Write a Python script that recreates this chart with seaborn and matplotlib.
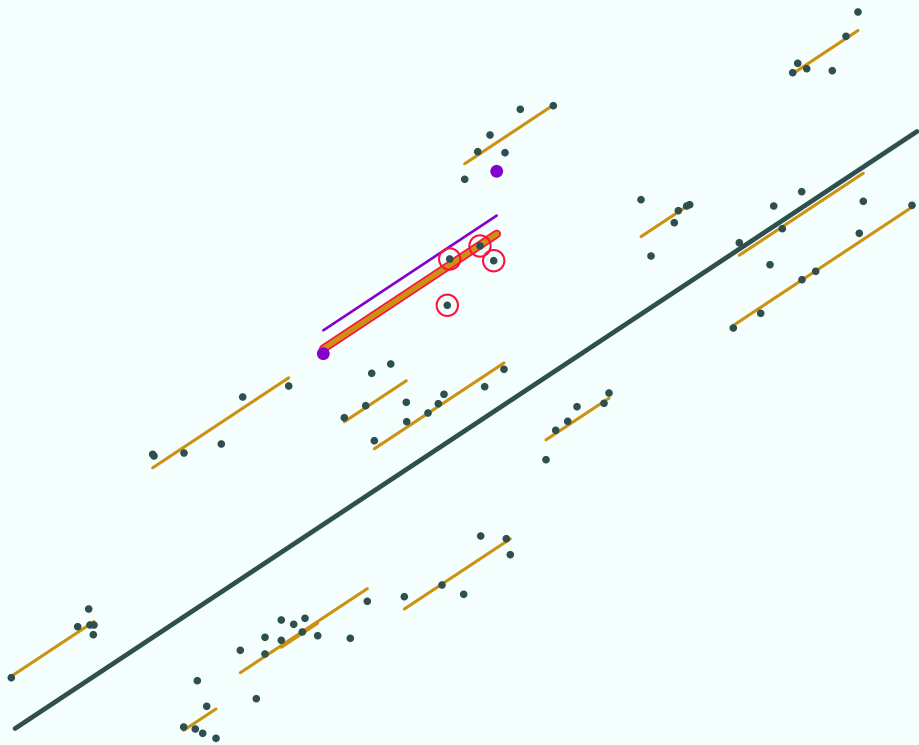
import numpy as np
import pandas as pd
import matplotlib
matplotlib.use("Agg")
import matplotlib.pyplot as plt
import seaborn as sns

# Observations: x, y and the group each belongs to
groups = ["A"] * 6 + ["B"] * 6 + ["C1"] * 6 + ["C2"] * 6 + ["D"] * 6 + ["E"] * 6 + \
         ["F"] * 5 + ["G"] * 7 + ["H"] * 6 + ["I"] * 6 + ["J"] * 6 + ["K"] * 6 + \
         ["L"] * 6 + ["M"] * 6
x_vals = [11.3, 77.7, 88.7, 90.0, 94.0, 93.3,
          197.3, 206.7, 183.7, 195.3, 202.7, 216.0,
          240.3, 265.0, 265.0, 256.3, 350.3, 367.3,
          281.3, 281.3, 293.7, 305.0, 302.3, 317.7,
          404.3, 442.0, 463.7, 480.7, 506.3, 510.3,
          152.7, 154.0, 184.0, 221.3, 242.7, 288.7,
          344.3, 365.7, 371.7, 390.7, 406.3,
          374.3, 406.7, 428.0, 438.3, 444.0, 484.7, 504.0,
          546.0, 555.7, 567.7, 577.0, 604.0, 609.0,
          464.7, 477.7, 490.0, 505.0, 520.3, 553.3,
          792.7, 797.7, 806.7, 832.3, 846.0, 858.0,
          641.0, 651.0, 674.3, 678.3, 686.7, 689.7,
          739.3, 770.0, 773.7, 782.3, 801.7, 863.3,
          733.3, 760.7, 802.0, 815.7, 859.3, 912.0]
y_vals = [677.7, 626.7, 609.0, 625.0, 625.0, 634.7,
          680.7, 706.3, 727.0, 729.0, 733.3, 738.3,
          650.3, 637.3, 654.0, 698.7, 638.3, 601.3,
          620.0, 640.3, 624.3, 618.3, 632.0, 635.7,
          596.7, 585.0, 594.3, 536.0, 538.7, 554.7,
          454.3, 456.0, 453.0, 444.0, 397.0, 386.0,
          417.7, 405.7, 373.3, 364.0, 402.3,
          440.7, 421.7, 413.0, 403.7, 394.3, 386.7, 369.3,
          459.7, 430.3, 421.3, 406.7, 403.3, 393.0,
          179.3, 151.7, 135.0, 152.7, 109.3, 105.7,
          72.7, 63.3, 68.7, 70.7, 36.3, 12.0,
          199.7, 256.0, 222.7, 210.7, 206.0, 204.7,
          242.7, 264.7, 206.0, 228.7, 191.7, 201.3,
          328.0, 313.3, 279.7, 271.3, 233.3, 205.3]

# Highlighted observations
focus_x = [449.7, 480.0, 493.7, 447.3]
focus_y = [259.0, 246.0, 260.7, 305.3]

# Reference observations marking the span of the highlighted fit
ref_x = [323.3, 496.7]
ref_y = [353.7, 171.3]

# Parallel-slopes model: one common slope, an intercept per group
common_slope = -0.662
group_names = ["A", "B", "C1", "C2", "D", "E", "F", "G", "H", "I", "J", "K", "L", "M"]
group_intercepts = [683.8, 851.9, 831.8, 833.5, 876.7, 568.9, 649.7, 696.6,
                    801.3, 471.4, 598.5, 661.0, 744.7, 810.9]
focus_intercept = 562.8
ref_intercept = 544.4
pooled_intercept = 738.5
pooled_range = [15.0, 917.0]

BG = "#f4fffd"
DOT = "#2f4f4f"
GOLD = "#cd9112"
RED = "#ff1040"
PURPLE = "#8600cc"

pts = pd.DataFrame({"x": x_vals, "y": y_vals, "group": groups})

# Fitted segments spanning each group's x range
rows = []
for g, b in zip(group_names, group_intercepts):
    gx = pts.loc[pts.group == g, "x"]
    for xv in (gx.min(), gx.max()):
        rows.append({"group": g, "x": xv, "y": b + common_slope * xv})
fits = pd.DataFrame(rows)

span = np.array([min(ref_x), max(ref_x)])
focus_line = pd.DataFrame({"x": span, "y": focus_intercept + common_slope * span})
ref_line = pd.DataFrame({"x": span, "y": ref_intercept + common_slope * span})
px = np.array(pooled_range)
pooled_line = pd.DataFrame({"x": px, "y": pooled_intercept + common_slope * px})

fig = plt.figure(figsize=(9.19, 7.45), dpi=100, facecolor=BG)
ax = fig.add_axes([0, 0, 1, 1])
ax.set_facecolor(BG)

sns.lineplot(data=pooled_line, x="x", y="y", ax=ax, color=DOT, lw=3.4,
             solid_capstyle="round", zorder=1)
sns.lineplot(data=fits, x="x", y="y", units="group", estimator=None, ax=ax,
             color=GOLD, lw=2.2, solid_capstyle="round", zorder=2)
sns.lineplot(data=ref_line, x="x", y="y", ax=ax, color=PURPLE, lw=1.9,
             solid_capstyle="round", zorder=2)
sns.lineplot(data=focus_line, x="x", y="y", ax=ax, color=RED, lw=6.2,
             solid_capstyle="round", zorder=3)
sns.lineplot(data=focus_line, x="x", y="y", ax=ax, color=GOLD, lw=3.8,
             solid_capstyle="round", zorder=4)

sns.scatterplot(data=pts, x="x", y="y", ax=ax, color=DOT, s=30,
                edgecolor="none", zorder=5)
sns.scatterplot(x=focus_x, y=focus_y, ax=ax, color=DOT, s=30,
                edgecolor="none", zorder=5)
ax.scatter(focus_x, focus_y, s=235, facecolors="none", edgecolors=RED,
           linewidths=1.5, zorder=6)
sns.scatterplot(x=ref_x, y=ref_y, ax=ax, color=PURPLE, s=85,
                edgecolor="none", zorder=6)

ax.set_xlim(0, 919)
ax.set_ylim(745, 0)
ax.set_axis_off()

fig.savefig("out.png", dpi=100, facecolor=BG)
